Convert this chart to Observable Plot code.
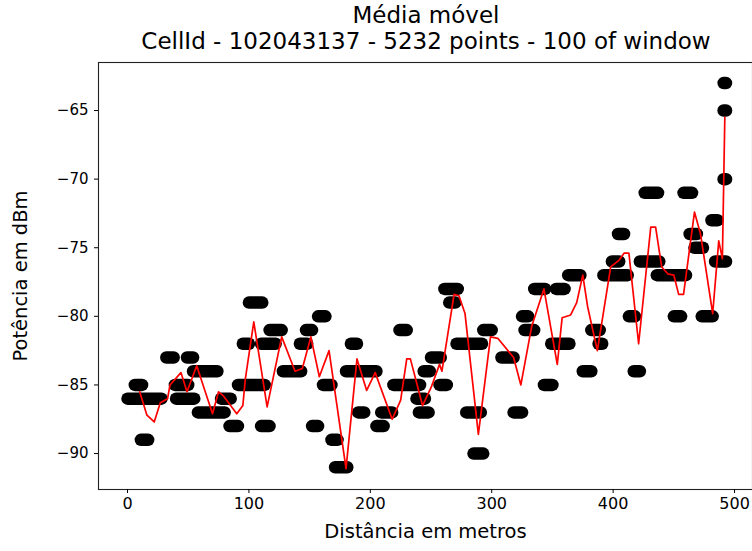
<!DOCTYPE html>
<html><head><meta charset="utf-8">
<script src="https://cdn.jsdelivr.net/npm/d3@7"></script>
<script src="https://cdn.jsdelivr.net/npm/@observablehq/plot@0.6"></script>
<style>
body{margin:0;background:#fff;}
#title{margin-left:98px;width:656px;height:52px;padding-top:2px;box-sizing:border-box;text-align:center;font-family:"DejaVu Sans",sans-serif;font-size:23px;line-height:26px;color:#000;white-space:nowrap;}
</style></head><body>
<div id="title"><div>Média móvel</div><div>CellId - 102043137 - 5232 points - 100 of window</div></div>
<div id="chart"></div>
<script>
// Scatter runs: consecutive measurements at the same power level (start distance, end distance, dBm)
const blobStart = [0,6,11,32,40,39,49,54,58,77,84,91,95,100,110,110,117,128,142,147,152,157,161,168,171,180,184,190,205,209,219,224,238,240,244,250,257,261,265,271,279,285,293,308,318,325,327,335,343,349,353,363,375,382,388,392,399,404,413,417,422,426,436,450,458,463,467,473,481,484,491,491,491];
const blobEnd   = [28,12,17,38,55,50,54,74,80,85,91,113,100,111,117,122,127,143,148,152,157,163,168,173,181,205,189,195,211,218,241,230,245,248,249,258,263,272,270,292,291,293,300,318,325,330,335,344,350,364,360,373,382,389,391,412,405,409,418,422,438,437,460,456,465,469,474,482,486,493,493,493,493];
const blobDbm   = [-86,-85,-89,-83,-86,-85,-83,-84,-87,-86,-88,-85,-82,-79,-88,-82,-81,-84,-82,-81,-88,-80,-85,-89,-91,-84,-82,-87,-88,-87,-85,-81,-86,-87,-84,-83,-85,-78,-79,-82,-87,-90,-81,-83,-87,-80,-81,-78,-85,-82,-78,-77,-84,-81,-82,-77,-76,-74,-80,-84,-76,-71,-77,-80,-71,-74,-75,-80,-73,-76,-70,-65,-63];

// Moving average (window of 100)
const maDist = [10,16,22,27,33,35,44,49,57,70,75,79,90,95,97,104,115,127,138,144,151,158,166,180,189,197,204,218,225,230,233,243,250,257,259,269,273,278,289,299,305,318,324,333,343,354,358,365,370,375,379,387,398,405,409,413,421,431,435,440,445,450,454,458,467,472,482,487,490,492];
const maDbm  = [-85.5,-87.2,-87.7,-86.3,-86.0,-85.0,-84.1,-85.5,-83.6,-87.1,-85.5,-85.8,-87.1,-86.5,-84.6,-80.4,-86.6,-81.5,-84.0,-83.8,-81.5,-84.4,-82.5,-91.1,-83.1,-85.4,-84.1,-87.5,-86.1,-83.1,-83.1,-86.5,-85.2,-83.5,-84.0,-78.4,-78.5,-79.8,-88.6,-81.5,-81.6,-83.0,-85.0,-80.7,-78.0,-83.5,-80.1,-79.9,-79.0,-77.0,-79.3,-82.5,-76.4,-75.9,-75.4,-75.4,-82.0,-73.5,-73.5,-76.4,-76.9,-77.0,-78.4,-78.4,-72.4,-74.0,-79.8,-74.5,-75.8,-65.5];

const xTicks = [0,100,200,300,400,500];
const yTicks = [-90,-85,-80,-75,-70,-65];
const xLabel = "Distância em metros";
const yLabel = "Potência em dBm";

const blobs = blobStart.map((s,i)=>({d1:s, d2:blobEnd[i], v:blobDbm[i]}));
const ma = maDist.map((d,i)=>({d, v:maDbm[i]}));
const minus = t => String(t).replace("-", "\u2212");

const chart = Plot.plot({
  width: 752, height: 499,
  marginTop: 10, marginBottom: 62, marginLeft: 98, marginRight: 0,
  style: {fontFamily: "DejaVu Sans", fontSize: "16px", color: "#000", background: "#fff"},
  x: {domain: [-23.9, 514.8], label: null},
  y: {domain: [-92.62, -61.5], label: null},
  marks: [
    Plot.link(blobs, {x1: "d1", x2: "d2", y1: "v", y2: "v", stroke: "#000", strokeWidth: 12.5, strokeLinecap: "round"}),
    Plot.line(ma, {x: "d", y: "v", stroke: "#ff0000", strokeWidth: 1.7}),
    Plot.frame({stroke: "#222", strokeWidth: 1.1}),
    Plot.axisX({ticks: xTicks, tickSize: 4, tickPadding: 4, fontSize: 16, label: null}),
    Plot.axisY({ticks: yTicks, tickSize: 4, tickPadding: 6, fontSize: 15, tickFormat: minus, label: null}),
    Plot.text([xLabel], {text: d => d, frameAnchor: "bottom", dy: 48, fontSize: 19.5}),
    Plot.text([yLabel], {text: d => d, frameAnchor: "left", textAnchor: "middle", dx: -78, rotate: -90, fontSize: 19.5})
  ]
});
document.getElementById("chart").appendChild(chart);
</script>
</body></html>
